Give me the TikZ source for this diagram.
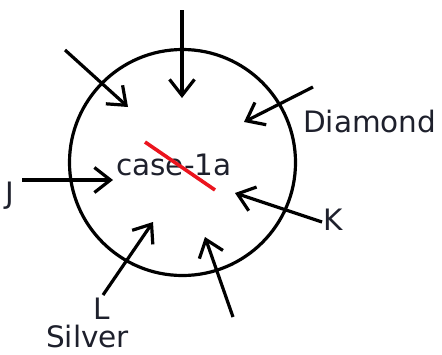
\documentclass[tikz,border=0pt]{standalone}
\usepackage{fontspec}
\setmainfont{DejaVu Sans}
\usetikzlibrary{arrows.meta}
\definecolor{txt}{RGB}{30,32,44}
\definecolor{strike}{RGB}{235,20,30}
\begin{document}
\begin{tikzpicture}[x=1pt,y=-1pt,
  lbl/.style={inner sep=0pt,text=txt,font=\fontsize{29.5}{34}\selectfont},
  arr/.style={line width=3.2pt,-{Straight Barb[length=16pt,width=25pt,line width=3.2pt]}}]
\useasboundingbox (0,0) rectangle (442,354);
\draw[line width=3.2pt] (182.5,162.5) circle[radius=113];
% labels
\node[lbl,anchor=base west] (case) at (116,175) {case-1a};
\node[lbl,anchor=base west] (diamond) at (303,132) {Diamond};
\node[lbl,anchor=base west] (j) at (5,203) {J};
\node[lbl,anchor=base west] (k) at (323,230) {K};
\node[lbl,anchor=base west] (l) at (93,319) {L};
\node[lbl,anchor=base west] (silver) at (46,347) {Silver};
% strike line
\coordinate (s1) at (145,142);
\coordinate (s2) at (215,190);
\draw[strike,line width=3.6pt] (s1) -- (s2);
% arrow endpoints
\coordinate (t0) at (182,10);   \coordinate (h0) at (182,98);
\coordinate (t1) at (65,50);    \coordinate (h1) at (128,107);
\coordinate (t2) at (313,87);   \coordinate (h2) at (244,122);
\coordinate (t3) at (22,180);   \coordinate (h3) at (113,180);
\coordinate (t4) at (322,222);  \coordinate (h4) at (235,193);
\coordinate (t5) at (103,295);  \coordinate (h5) at (153,222);
\coordinate (t6) at (233,317);  \coordinate (h6) at (205,237);
\foreach \i in {0,...,6} {\draw[arr] (t\i) -- (h\i);}
\end{tikzpicture}
\end{document}
